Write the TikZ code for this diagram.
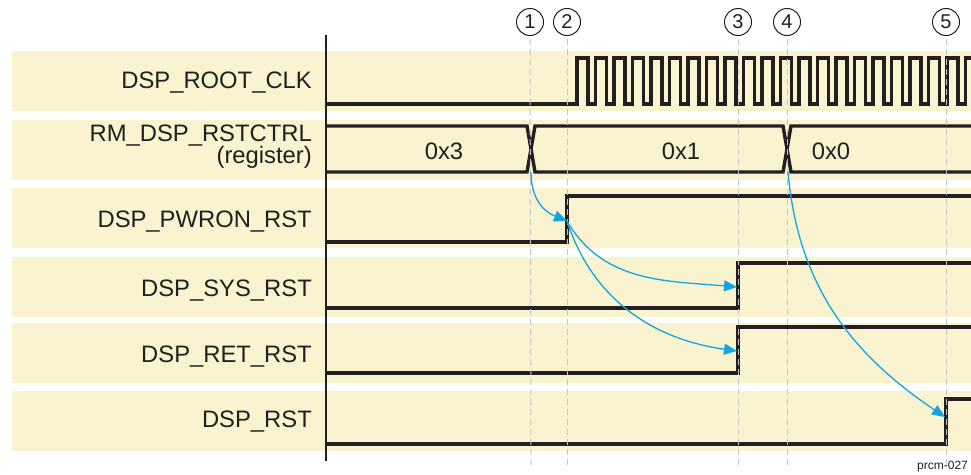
\documentclass[tikz,border=0pt]{standalone}
\usepackage{fontspec}
\setmainfont{Liberation Sans}
\usetikzlibrary{arrows.meta}
\definecolor{bandc}{RGB}{249,243,208}
\definecolor{sig}{RGB}{35,31,32}
\definecolor{arrc}{RGB}{20,165,225}
\definecolor{guidec}{RGB}{196,196,202}
\begin{document}
\begin{tikzpicture}[x=1pt,y=-1pt,
  sigline/.style={draw=sig,line width=3.4pt,line join=miter,line cap=butt},
  guide/.style={draw=guidec,line width=1pt,dash pattern=on 6pt off 4pt},
  lbl/.style={anchor=east,inner sep=0pt,text=sig,font=\fontsize{23.8}{22}\selectfont,text height=17pt,text depth=0pt},
  lbltwo/.style={anchor=east,inner sep=0pt,text=sig,font=\fontsize{23.8}{22}\selectfont,align=right},
  val/.style={inner sep=0pt,text=sig,font=\fontsize{23.8}{22}\selectfont,text height=17pt,text depth=0pt},
  num/.style={circle,draw=sig,line width=1pt,minimum size=27pt,inner sep=0pt,text=sig,font=\fontsize{20}{20}\selectfont},
  arr/.style={draw=arrc,line width=1.3pt,-{Triangle[length=13pt,width=11pt]}}]
\useasboundingbox (0,0) rectangle (971,474);
% bands
\foreach \t in {51,120,188,257,323,391}{
  \fill[bandc] (12,\t) rectangle (980,\t+60);
}
% labels
\node[lbl] (l1) at (312,80) {DSP\_ROOT\_CLK};
\node[lbltwo] (l2) at (312,147) {RM\_DSP\_RSTCTRL\\(register)};
\node[lbl] (l3) at (312,219) {DSP\_PWRON\_RST};
\node[lbl] (l4) at (312,288) {DSP\_SYS\_RST};
\node[lbl] (l5) at (312,354) {DSP\_RET\_RST};
\node[lbl] (l6) at (312,419) {DSP\_RST};
% axis
\draw[sig,line width=1.3pt] (326,35) -- (326,461);
% clock
\draw[sigline] (326,104) -- (577,104) -- (577,58)
  \foreach \i in {1,...,22}{ -- ++(11,0) -- ++(0,46) -- ++(7.5,0) -- ++(0,-46) };
% register bus
\draw[sigline] (326,126) -- (527,126) -- (535,172) -- (783,172) -- (791,126) -- (980,126);
\draw[sigline] (326,172) -- (527,172) -- (535,126) -- (783,126) -- (791,172) -- (980,172);
\node[val] (v3) at (444,151) {0x3};
\node[val] (v1) at (681,151) {0x1};
\node[val] (v0) at (831,151) {0x0};
% resets
\draw[sigline] (326,242) -- (567,242) -- (567,196) -- (980,196);
\draw[sigline] (326,308) -- (738,308) -- (738,263) -- (980,263);
\draw[sigline] (326,373) -- (738,373) -- (738,327) -- (980,327);
\draw[sigline] (326,444) -- (946,444) -- (946,399) -- (980,399);
% numbered markers and guides
\node[num] (c1) at (530,22) {1};
\node[num] (c2) at (567,22) {2};
\node[num] (c3) at (738,22) {3};
\node[num] (c4) at (787,22) {4};
\node[num] (c5) at (946,22) {5};
\coordinate (g1) at (531,466);
\coordinate (g2) at (567,466);
\coordinate (g3) at (738,466);
\coordinate (g4) at (787,466);
\coordinate (g5) at (946,466);
\foreach \k in {1,...,5}{
  \draw[guide] ([yshift=-3pt]c\k.south) -- (g\k);
}
% arrows
\coordinate (r1) at (531,172);
\coordinate (p1) at (567,221);
\coordinate (s1) at (737,287);
\coordinate (t1) at (737,351);
\coordinate (r2) at (788,172);
\coordinate (d1) at (945,417);
\draw[arr] (r1) to[out=-90,in=158,looseness=1.1] (p1);
\draw[arr] (p1) to[out=-60,in=175] (s1);
\draw[arr] (p1) to[out=-72,in=172] (t1);
\draw[arr] (r2) to[out=-85,in=146] (d1);
\node[anchor=west,inner sep=0pt,text=sig,font=\fontsize{12}{12}\selectfont] (fig) at (917,467) {prcm-027};
\end{tikzpicture}
\end{document}
